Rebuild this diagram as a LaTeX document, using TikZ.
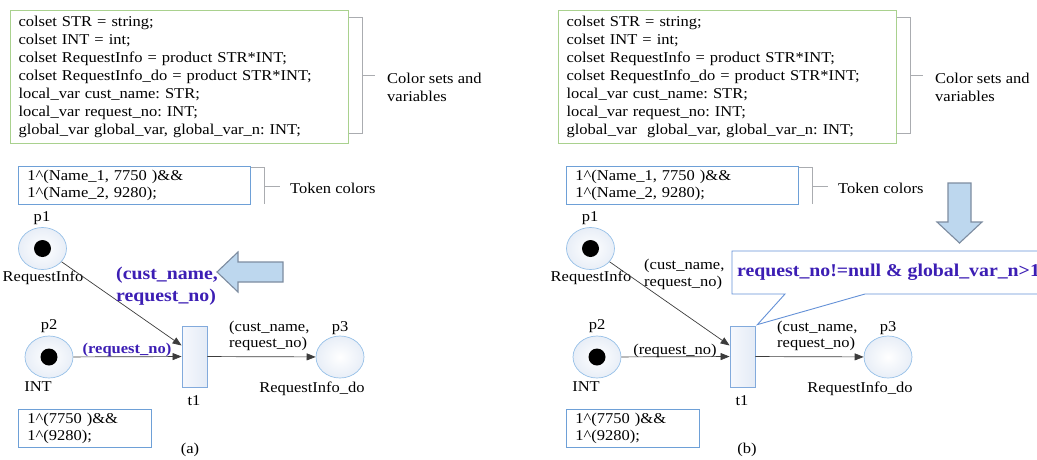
\documentclass[tikz,border=0pt]{standalone}
\usepackage{fontspec}
\setmainfont{Liberation Serif}[FakeStretch=1.1]
\usetikzlibrary{arrows.meta,shapes.geometric}
\frenchspacing

\definecolor{declline}{RGB}{169,209,142}
\definecolor{boxline}{RGB}{110,160,215}
\definecolor{brkline}{RGB}{170,172,176}
\definecolor{placeline}{RGB}{150,192,232}
\definecolor{placefill}{RGB}{232,238,247}
\definecolor{transline}{RGB}{130,170,220}
\definecolor{transfillA}{RGB}{246,248,253}
\definecolor{transfillB}{RGB}{228,235,246}
\definecolor{arcline}{RGB}{60,60,60}
\definecolor{guardcol}{RGB}{60,30,180}
\definecolor{bigfill}{RGB}{189,215,238}
\definecolor{bigline}{RGB}{125,140,160}
\definecolor{callline}{RGB}{100,145,215}

% shared part of one net: declarations, markings, places, transition, arcs
\newcommand\cpnpanel[1]{%
  \node[codebox, minimum width=338pt, minimum height=133pt, text width=322pt] (decl) at (10,10)
    {colset STR = string;\\
     colset INT = int;\\
     colset RequestInfo = product STR*INT;\\
     colset RequestInfo\_do = product STR*INT;\\
     local\_var cust\_name: STR;\\
     local\_var request\_no: INT;\\
     #1};
  \draw[brk] (decl.east |- 0,17) -- (362,17) -- (362,133) -- (decl.east |- 0,133);
  \node[txt, anchor=west, align=left] (declnote) at (387,87) {Color sets and\\variables};
  \draw[brk] (362,75) -- (375,75);
  \node[tokbox, minimum width=232pt, minimum height=38pt, text width=214pt] (mark1) at (18,166)
    {1\textasciicircum(Name\_1, 7750 )\&\&\\1\textasciicircum(Name\_2, 9280);};
  \draw[brk] (mark1.east |- 0,167) -- (264,167) -- (264,204);
  \draw[brk] (264,186) -- (280,186);
  \node[txt, anchor=west] (marknote) at (290,188) {Token colors};
  % places and transition
  \node[place] (p1) at (42.5,248.5) {};
  \node[token] (p1tok) at (p1) {};
  \node[txt] (p1name) at (42,218) {p1};
  \node[txt] (p1type) at (43,278) {RequestInfo};
  \node[place] (p2) at (49,357) {};
  \node[token] (p2tok) at (p2) {};
  \node[txt] (p2name) at (49,326) {p2};
  \node[txt] (p2type) at (38,387) {INT};
  \node[trans] (t1) at (194.5,356.5) {};
  \node[txt] (t1name) at (194,401) {t1};
  \node[place] (p3) at (340,357) {};
  \node[txt] (p3name) at (340,328) {p3};
  \node[txt] (p3type) at (312,389) {RequestInfo\_do};
  % arcs
  \draw[arc] (p1) -- ([yshift=11pt]t1.west);
  \draw[arc] (p2) -- (t1);
  \draw[arc] (t1) -- (p3);
  \node[txt, anchor=west, align=left, font=\fontsize{15}{15.5}\selectfont] (outlbl) at (229,336)
    {(cust\_name,\\request\_no)};
  \node[tokbox, minimum width=133pt, minimum height=38pt, text width=115pt] (mark2) at (18,409)
    {1\textasciicircum(7750 )\&\&\\1\textasciicircum(9280);};
}

\begin{document}
\begin{tikzpicture}[x=1pt,y=-1pt,
  txt/.style={inner sep=0pt, font=\fontsize{15}{18}\selectfont},
  codebox/.style={draw=declline, line width=1pt, anchor=north west, align=left,
    inner xsep=8pt, inner ysep=0pt, font=\fontsize{15}{18}\selectfont},
  tokbox/.style={draw=boxline, line width=0.9pt, anchor=north west, align=left,
    inner xsep=9pt, inner ysep=0pt, font=\fontsize{15}{16.5}\selectfont},
  brk/.style={draw=brkline, line width=0.8pt},
  place/.style={ellipse, draw=placeline, line width=0.7pt, minimum width=48pt,
    minimum height=42pt, inner sep=0pt, inner color=white, outer color=placefill},
  token/.style={circle, fill=black, minimum size=17pt, inner sep=0pt},
  trans/.style={rectangle, draw=transline, line width=0.8pt, minimum width=25pt,
    minimum height=61pt, inner sep=0pt, left color=transfillA, right color=transfillB},
  arc/.style={draw=arcline, line width=0.7pt, -{Triangle[length=9pt,width=7pt]}},
  guard/.style={inner sep=0pt, text=guardcol, font=\bfseries\fontsize{18}{22}\selectfont},
  bigarrow/.style={fill=bigfill, draw=bigline, line width=1.1pt, line join=miter},
  callout/.style={draw=callline, line width=0.9pt, fill=white}
]
\useasboundingbox (0,0) rectangle (1037,459);
\begin{scope}
\clip (0,0) rectangle (1037,459);

% ---------------- net (a) ----------------
\begin{scope}[name prefix=a-]
  \cpnpanel{global\_var global\_var, global\_var\_n: INT;}
  \node[guard, anchor=west, align=left] (bindlbl) at (116,286) {(cust\_name,\\request\_no)};
  \node[guard, font=\bfseries\fontsize{15}{18}\selectfont] (inlbl) at (127,350) {(request\_no)};
  \draw[bigarrow] (217,272) -- (238,252) -- (238,262) -- (283,262) -- (283,282)
    -- (238,282) -- (238,292) -- cycle;
  \node[txt] (cap) at (190,450) {(a)};
\end{scope}

% ---------------- net (b) ----------------
\begin{scope}[xshift=548pt, name prefix=b-]
  \cpnpanel{global\_var\ \ global\_var, global\_var\_n: INT;}
  \node[txt, anchor=west, align=left, font=\fontsize{15}{17}\selectfont] (bindlbl) at (96,274.5)
    {(cust\_name,\\request\_no)};
  \node[txt] (inlbl) at (127,351) {(request\_no)};
  \node[txt] (cap) at (199,450) {(b)};
  % guard callout attached to t1
  \coordinate (tip) at ([xshift=2pt,yshift=1pt]t1.north east);
  \draw[callout] (184,251) -- (520,251) -- (520,294) -- (317,294) -- (tip)
    -- (237,294) -- (184,294) -- cycle;
  \node[guard, anchor=west] (guardtxt) at (189,272.5) {request\_no!=null \& global\_var\_n>1};
  \draw[bigarrow] (400,183) -- (423,183) -- (423,222) -- (434,222) -- (411.5,243)
    -- (389,222) -- (400,222) -- cycle;
\end{scope}

\end{scope}
\end{tikzpicture}
\end{document}
